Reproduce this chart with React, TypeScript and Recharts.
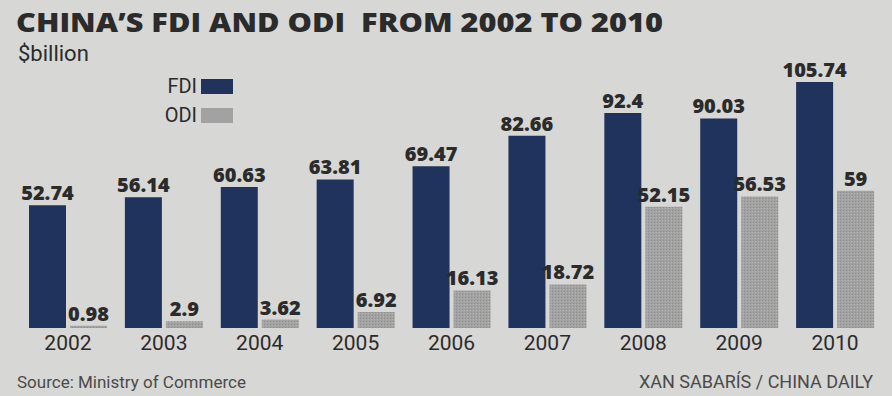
import React from "react";
import { BarChart, Bar, XAxis, YAxis, Legend, LabelList } from "recharts";

const years = ["2002", "2003", "2004", "2005", "2006", "2007", "2008", "2009", "2010"];
const fdi = [52.74, 56.14, 60.63, 63.81, 69.47, 82.66, 92.4, 90.03, 105.74];
const odi = [0.98, 2.9, 3.62, 6.92, 16.13, 18.72, 52.15, 56.53, 59];

const data = years.map((year, i) => ({ year, FDI: fdi[i], ODI: odi[i] }));

const FDI_COLOR = "#1f335c";
const ODI_COLOR = "#a2a2a2";
const BG = "#d7d7d5";
const TEXT = "#2b2b2b";

const renderLegend = (props: any) => {
  const { payload } = props;
  return (
    <div style={{ display: "flex", flexDirection: "column", alignItems: "flex-end", gap: 13 }}>
      {(payload || []).map((entry: any) => (
        <div key={entry.value} style={{ display: "flex", alignItems: "center", height: 16 }}>
          <span style={{ fontFamily: "Roboto, sans-serif", fontSize: 20, color: TEXT, marginRight: 4 }}>
            {entry.value}
          </span>
          <span
            style={{
              display: "inline-block",
              width: 32,
              height: 15,
              background: entry.value === "ODI" ? ODI_COLOR : FDI_COLOR,
            }}
          />
        </div>
      ))}
    </div>
  );
};

const labelStyle = {
  fill: TEXT,
  fontSize: 20,
  fontWeight: 800,
  fontFamily: "'Open Sans', sans-serif",
};

const App: React.FC = () => {
  return (
    <div style={{ position: "relative", width: 892, height: 396, background: BG, overflow: "hidden" }}>
      <style>{`body{margin:0}`}</style>
      <svg width={892} height={396} style={{ position: "absolute", left: 0, top: 0 }}>
        <defs>
          <pattern id="odiTex" width={3} height={3} patternUnits="userSpaceOnUse">
            <rect width={3} height={3} fill={ODI_COLOR} />
            <rect width={1} height={1} fill="#8c8c8c" />
            <rect x={2} y={1} width={1} height={1} fill="#b4b4b4" />
          </pattern>
        </defs>
        <text
          x={16}
          y={32}
          textLength={647}
          lengthAdjust="spacingAndGlyphs"
          style={{ fontFamily: "'Open Sans', sans-serif", fontWeight: 800, fontSize: 27, fill: TEXT, whiteSpace: "pre" }}
        >
          {"CHINA’S FDI AND ODI\u00a0 FROM 2002 TO 2010"}
        </text>
        <text x={18} y={61} style={{ fontFamily: "Roboto, sans-serif", fontSize: 22, fill: TEXT }}>
          $billion
        </text>
        <text x={17} y={388} style={{ fontFamily: "Roboto, sans-serif", fontSize: 17, fill: "#4a4a4a" }}>
          Source: Ministry of Commerce
        </text>
        <text
          x={873}
          y={388}
          textAnchor="end"
          style={{ fontFamily: "Roboto, sans-serif", fontSize: 18, fill: "#4a4a4a" }}
        >
          XAN SABARÍS / CHINA DAILY
        </text>
      </svg>
      <div style={{ position: "absolute", left: 0, top: 0 }}>
        <BarChart
          width={892}
          height={396}
          data={data}
          margin={{ top: 72, right: 9, bottom: 38, left: 20 }}
          barCategoryGap={9}
          barGap={4}
        >
          <XAxis
            dataKey="year"
            height={30}
            axisLine={false}
            tickLine={false}
            tickMargin={1}
            tick={{ fill: TEXT, fontSize: 21, fontFamily: "Roboto, sans-serif" }}
          />
          <YAxis hide domain={[0, 110]} />
          <Legend
            layout="horizontal"
            verticalAlign="middle"
            content={renderLegend}
            wrapperStyle={{ position: "absolute", left: 120, top: 78, width: 113 }}
          />
          <Bar dataKey="FDI" name="FDI" fill={FDI_COLOR} isAnimationActive={false}>
            <LabelList dataKey="FDI" position="top" offset={5} style={labelStyle} />
          </Bar>
          <Bar dataKey="ODI" name="ODI" fill="url(#odiTex)" isAnimationActive={false}>
            <LabelList dataKey="ODI" position="top" offset={5} style={labelStyle} />
          </Bar>
        </BarChart>
      </div>
    </div>
  );
};

export default App;
